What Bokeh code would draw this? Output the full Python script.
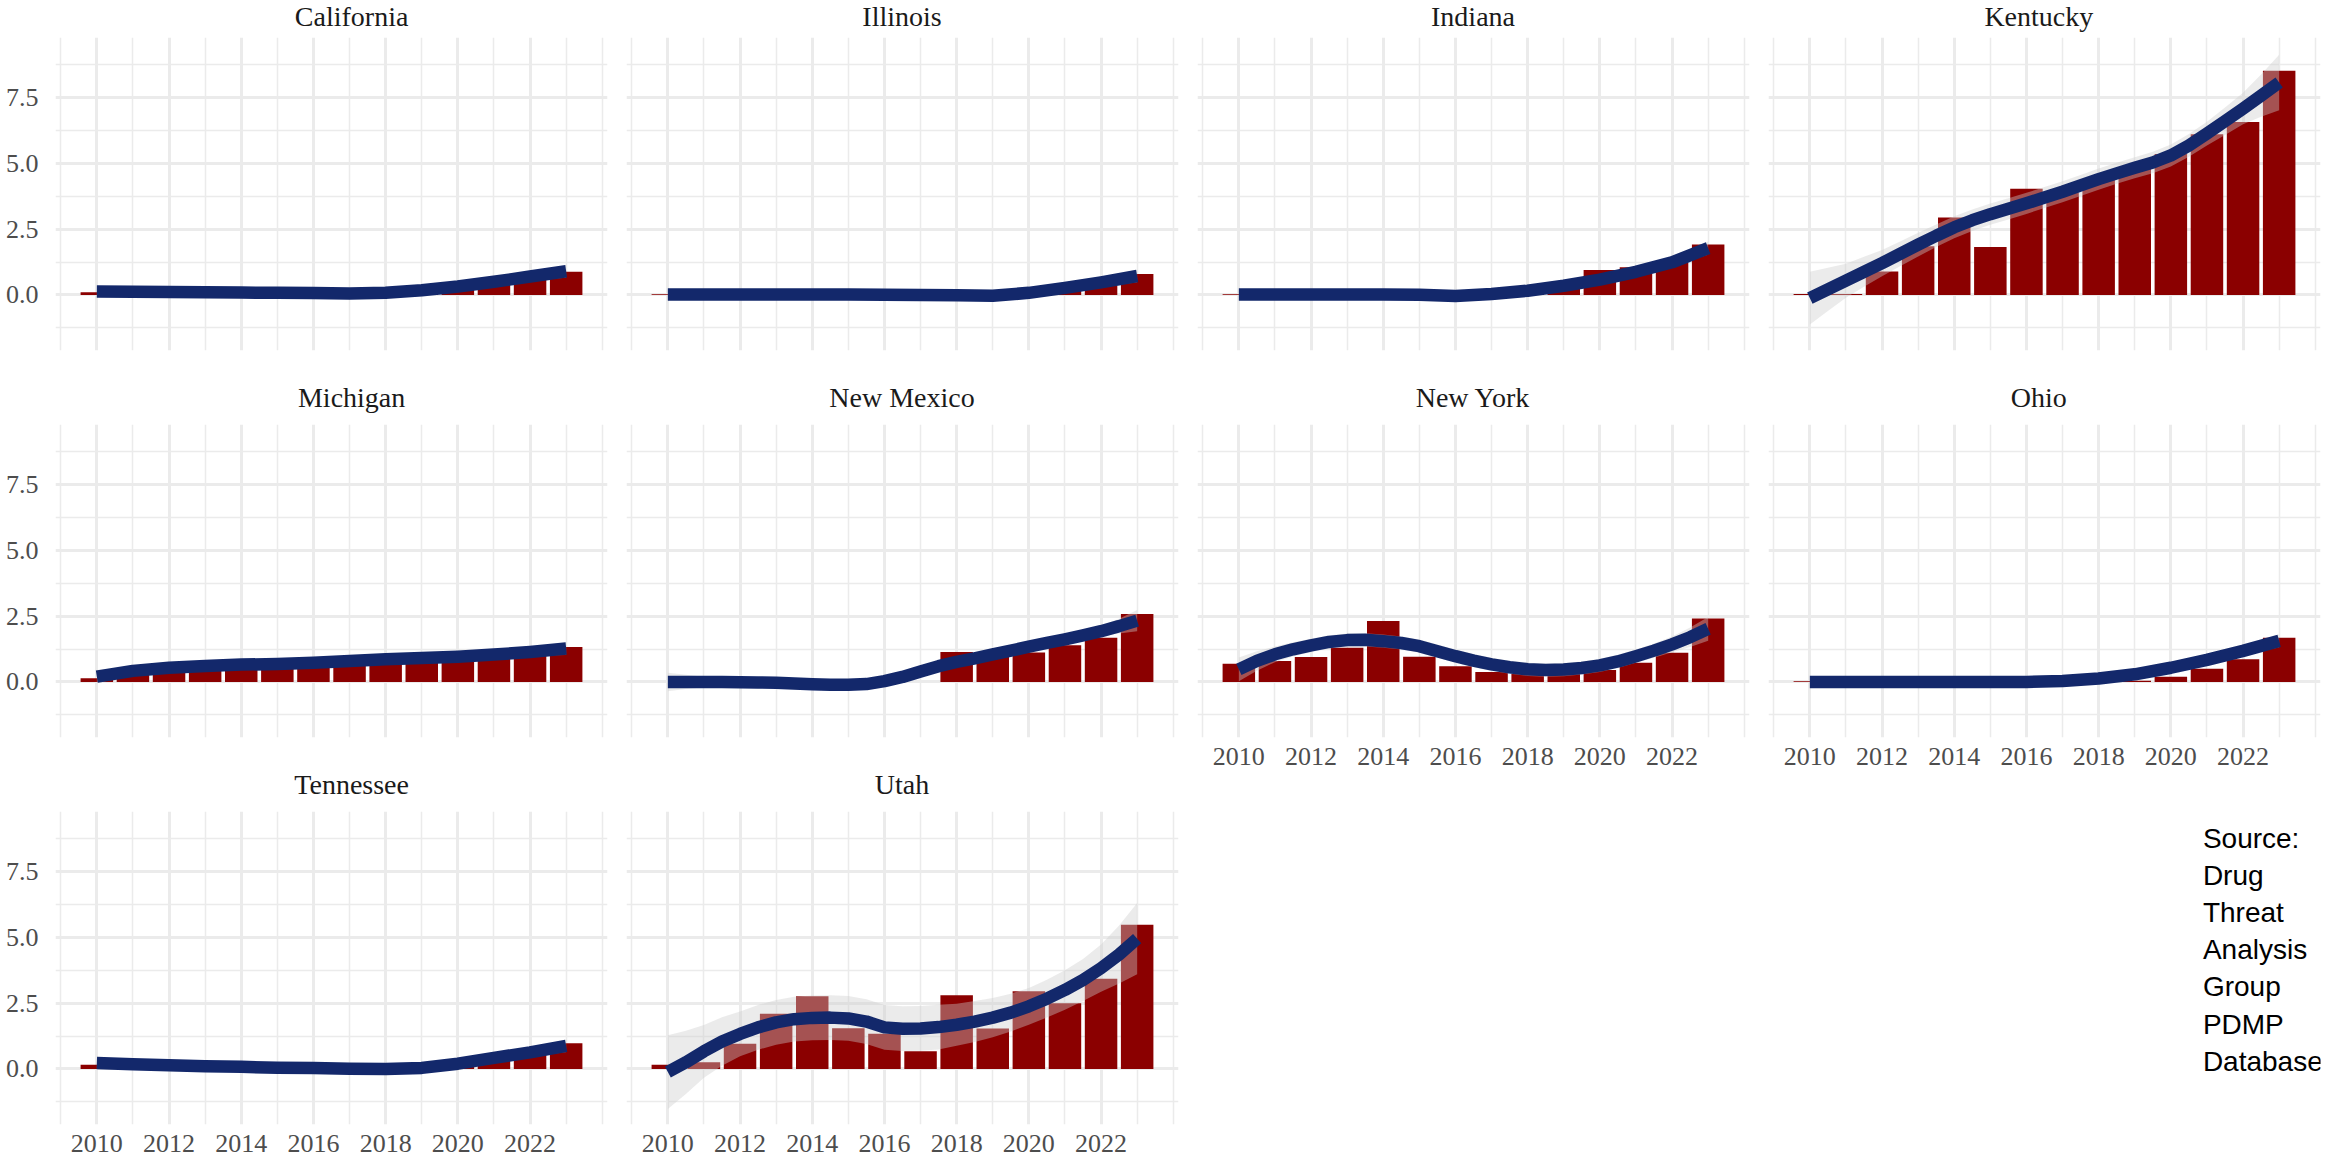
from bokeh.plotting import figure
from bokeh.layouts import column, row
from bokeh.models import Range1d, FixedTicker, PrintfTickFormatter
from bokeh.embed import file_html
from bokeh.resources import INLINE
from bokeh.core.properties import value

years = list(range(2010, 2024))
half_years = [2010 + 0.5 * i for i in range(27)]
x_major = [2010, 2012, 2014, 2016, 2018, 2020, 2022]
x_minor = [2009, 2011, 2013, 2015, 2017, 2019, 2021, 2023, 2024]
y_major = [0.0, 2.5, 5.0, 7.5]
y_minor = [-1.25, 1.25, 3.75, 6.25, 8.75]

states = ["California", "Illinois", "Indiana", "Kentucky", "Michigan",
          "New Mexico", "New York", "Ohio", "Tennessee", "Utah"]

# bar heights per year (2010..2023)
bars_california = [0.10, 0, 0, 0, 0, 0, 0, 0, 0, 0.05, 0.20, 0.45, 0.72, 0.88]
bars_illinois = [0.03, 0, 0, 0, 0, 0, 0, 0, 0, 0, 0.05, 0.15, 0.35, 0.80]
bars_indiana = [0.03, 0, 0, 0, 0, 0, 0, 0, 0.10, 0.30, 0.95, 1.05, 1.24, 1.92]
bars_kentucky = [0.04, 0.04, 0.89, 1.85, 2.94, 1.82, 4.03, 3.90, 4.40, 4.85, 5.35, 6.10, 6.57, 8.52]
bars_michigan = [0.14, 0.35, 0.45, 0.55, 0.60, 0.65, 0.70, 0.75, 0.85, 0.90, 0.95, 1.05, 1.15, 1.33]
bars_new_mexico = [0, 0, 0, 0, 0, 0, 0, 0, 1.14, 1.00, 1.12, 1.39, 1.68, 2.58]
bars_new_york = [0.69, 0.80, 0.95, 1.30, 2.32, 0.96, 0.60, 0.38, 0.30, 0.30, 0.45, 0.73, 1.11, 2.41]
bars_ohio = [0.03, 0, 0, 0, 0, 0, 0, 0, 0, 0.05, 0.20, 0.50, 0.86, 1.68]
bars_tennessee = [0.16, 0, 0, 0, 0, 0, 0, 0, 0, 0, 0.15, 0.40, 0.60, 0.98]
bars_utah = [0.16, 0.25, 0.96, 2.10, 2.76, 1.55, 1.34, 0.67, 2.80, 1.54, 2.95, 2.50, 3.43, 5.48]

# smoothed trend, read per year (2010..2023)
smooth_california = [0.13, 0.12, 0.11, 0.10, 0.09, 0.08, 0.07, 0.06, 0.08, 0.18, 0.32, 0.50, 0.70, 0.90]
smooth_illinois = [0.02, 0.02, 0.02, 0.02, 0.02, 0.02, 0.01, 0.0, -0.01, -0.03, 0.08, 0.27, 0.48, 0.72]
smooth_indiana = [0.02, 0.02, 0.02, 0.02, 0.02, 0.01, -0.04, 0.04, 0.16, 0.35, 0.58, 0.88, 1.24, 1.78]
smooth_michigan = [0.20, 0.42, 0.54, 0.61, 0.66, 0.68, 0.73, 0.80, 0.86, 0.91, 0.96, 1.04, 1.14, 1.27]
smooth_ohio = [0.0, 0.0, 0.0, 0.0, 0.0, 0.0, 0.0, 0.04, 0.13, 0.29, 0.54, 0.84, 1.18, 1.56]
smooth_tennessee = [0.23, 0.18, 0.14, 0.10, 0.08, 0.05, 0.04, 0.01, 0.0, 0.04, 0.20, 0.42, 0.63, 0.88]

# smoothed trend, read per half year (2010, 2010.5, ..., 2023) for the curvier panels
smooth_kentucky = [-0.12, 0.21, 0.54, 0.88, 1.21, 1.56, 1.91, 2.25, 2.57, 2.84, 3.07, 3.27, 3.48, 3.70,
                   3.92, 4.16, 4.40, 4.62, 4.83, 5.03, 5.30, 5.68, 6.13, 6.60, 7.08, 7.57, 8.07]
smooth_new_mexico = [0.0, 0.0, 0.0, 0.0, -0.01, -0.02, -0.03, -0.06, -0.09, -0.11, -0.11, -0.08, 0.03, 0.19,
                     0.40, 0.60, 0.76, 0.90, 1.05, 1.19, 1.34, 1.48, 1.62, 1.77, 1.93, 2.12, 2.33]
smooth_new_york = [0.48, 0.80, 1.05, 1.24, 1.39, 1.52, 1.59, 1.60, 1.55, 1.48, 1.36, 1.17, 0.98, 0.81,
                   0.67, 0.56, 0.48, 0.45, 0.47, 0.53, 0.63, 0.78, 0.98, 1.19, 1.43, 1.70, 2.02]
smooth_utah = [-0.12, 0.25, 0.67, 1.04, 1.33, 1.58, 1.77, 1.89, 1.94, 1.95, 1.92, 1.80, 1.58, 1.53,
               1.54, 1.59, 1.68, 1.80, 1.95, 2.14, 2.38, 2.67, 3.00, 3.38, 3.83, 4.35, 4.95]

# half-width of the confidence band
band_small = [0.20, 0.12, 0.10, 0.10, 0.10, 0.10, 0.10, 0.10, 0.10, 0.10, 0.10, 0.12, 0.15, 0.25]
band_michigan = [0.25, 0.15, 0.12, 0.12, 0.12, 0.12, 0.12, 0.12, 0.12, 0.12, 0.12, 0.12, 0.15, 0.25]
band_kentucky = [1.00, 0.82, 0.65, 0.57, 0.50, 0.47, 0.45, 0.43, 0.42, 0.41, 0.40, 0.40, 0.40, 0.40,
                 0.40, 0.40, 0.40, 0.40, 0.40, 0.41, 0.42, 0.43, 0.45, 0.52, 0.60, 0.80, 1.05]
band_new_mexico = [0.35, 0.27, 0.20, 0.17, 0.15, 0.15, 0.15, 0.15, 0.15, 0.15, 0.15, 0.15, 0.15, 0.15,
                   0.15, 0.15, 0.15, 0.15, 0.15, 0.15, 0.15, 0.15, 0.15, 0.17, 0.20, 0.28, 0.40]
band_new_york = [0.45, 0.37, 0.30, 0.27, 0.25, 0.25, 0.25, 0.25, 0.25, 0.25, 0.25, 0.25, 0.25, 0.25,
                 0.25, 0.25, 0.25, 0.25, 0.25, 0.25, 0.25, 0.25, 0.25, 0.27, 0.30, 0.37, 0.45]
band_utah = [1.40, 1.20, 1.00, 0.92, 0.85, 0.85, 0.85, 0.85, 0.85, 0.85, 0.85, 0.85, 0.85, 0.85,
             0.85, 0.85, 0.80, 0.78, 0.75, 0.72, 0.70, 0.72, 0.75, 0.80, 0.90, 1.10, 1.35]

caption_text = "Source:\nDrug\nThreat\nAnalysis\nGroup\nPDMP\nDatabase"

data = {
    "California": (bars_california, years, smooth_california, band_small),
    "Illinois": (bars_illinois, years, smooth_illinois, band_small),
    "Indiana": (bars_indiana, years, smooth_indiana, band_small),
    "Kentucky": (bars_kentucky, half_years, smooth_kentucky, band_kentucky),
    "Michigan": (bars_michigan, years, smooth_michigan, band_michigan),
    "New Mexico": (bars_new_mexico, half_years, smooth_new_mexico, band_new_mexico),
    "New York": (bars_new_york, half_years, smooth_new_york, band_new_york),
    "Ohio": (bars_ohio, years, smooth_ohio, band_small),
    "Tennessee": (bars_tennessee, years, smooth_tennessee, band_small),
    "Utah": (bars_utah, half_years, smooth_utah, band_utah),
}

SERIF = "Liberation Serif"
BAR = "#8B0000"
LINE = "#13286B"
GRID = "#EBEBEB"
FRAME_W, FRAME_H = 552, 313
X0, X1 = 2008.855, 2024.145
Y0, Y1 = -2.11, 9.78


def borders(col):
    left = 55 if col == 0 else 9
    right = 21 if col == 3 else 10
    return left, right


def blank(width, height):
    p = figure(width=width, height=height,
               x_range=Range1d(0, width), y_range=Range1d(0, height),
               toolbar_location=None, tools="", output_backend="svg",
               x_axis_location=None, y_axis_location=None, min_border=0)
    p.outline_line_color = None
    p.xgrid.visible = False
    p.ygrid.visible = False
    return p


def title_strip(name, col, height, first_row):
    left, right = borders(col)
    w = left + FRAME_W + right
    t = blank(w, height)
    if first_row:
        t.text(x=[left + FRAME_W / 2], y=[height], text=[name], text_font=value(SERIF),
               text_font_size="28px", text_align="center", text_baseline="top",
               text_color="#1A1A1A")
    else:
        t.text(x=[left + FRAME_W / 2], y=[26.7], text=[name], text_font=value(SERIF),
               text_font_size="28px", text_align="center", text_baseline="middle",
               text_color="#1A1A1A")
    return t


def panel(name, col, show_x, show_y, bottom):
    bars, sx, smooth, band = data[name]
    left, right = borders(col)
    p = figure(frame_width=FRAME_W, frame_height=FRAME_H,
               x_range=Range1d(X0, X1), y_range=Range1d(Y0, Y1),
               toolbar_location=None, tools="", output_backend="svg",
               x_axis_location="below" if show_x else None,
               y_axis_location="left" if show_y else None,
               min_border_left=left, min_border_right=right,
               min_border_top=0, min_border_bottom=bottom)
    p.outline_line_color = None
    p.background_fill_color = "white"
    p.border_fill_color = "white"

    p.xgrid.ticker = FixedTicker(ticks=x_major, minor_ticks=x_minor)
    p.ygrid.ticker = FixedTicker(ticks=y_major, minor_ticks=y_minor)
    for g in (p.xgrid, p.ygrid):
        g.grid_line_color = GRID
        g.grid_line_width = 3
        g.minor_grid_line_color = GRID
        g.minor_grid_line_width = 1.5

    for ax in p.axis:
        ax.axis_line_color = None
        ax.major_tick_line_color = None
        ax.minor_tick_line_color = None
        ax.major_tick_out = 0
        ax.major_tick_in = 0
        ax.minor_tick_out = 0
        ax.major_label_text_font = SERIF
        ax.major_label_text_font_size = "26px"
        ax.major_label_text_color = "#4D4D4D"
    if show_x:
        p.xaxis.ticker = FixedTicker(ticks=x_major)
        p.xaxis.major_label_standoff = 10
    if show_y:
        p.yaxis.ticker = FixedTicker(ticks=y_major)
        p.yaxis.formatter = PrintfTickFormatter(format="%.1f")
        p.yaxis.major_label_standoff = 17

    lower = [s - b for s, b in zip(smooth, band)]
    upper = [s + b for s, b in zip(smooth, band)]
    p.vbar(x=years, top=bars, bottom=0, width=0.9, fill_color=BAR, line_color=None)
    p.varea(x=sx, y1=lower, y2=upper, fill_color="#CCCCCC", fill_alpha=0.4)
    p.line(sx, smooth, line_color=LINE, line_width=12.5, line_join="round", line_cap="butt")
    return p


def stack(col, names, bottom_axis_row):
    items = []
    for r, name in enumerate(names):
        top_h = 37 if r == 0 else 44
        show_x = (r == bottom_axis_row)
        if r == 2:
            bottom = 40
        elif show_x:
            bottom = 44
        else:
            bottom = 30
        items.append(title_strip(name, col, top_h, r == 0))
        items.append(panel(name, col, show_x, col == 0, bottom))
    return items


col1 = stack(0, ["California", "Michigan", "Tennessee"], 2)
col2 = stack(1, ["Illinois", "New Mexico", "Utah"], 2)
col3 = stack(2, ["Indiana", "New York"], 1)
col4 = stack(3, ["Kentucky", "Ohio"], 1)

cap_w, cap_h = 582, 383
cap = blank(cap_w, cap_h)
cap.text(x=[458], y=[342], text=[caption_text], text_font=value("Liberation Sans"),
         text_font_size="28px", text_align="left", text_baseline="top",
         text_line_height=1.2, text_color="black")

layout = row(column(*col1), column(*col2), column(*col3), column(*col4, cap))

with open("out.html", "w") as fh:
    fh.write(file_html(layout, INLINE))
